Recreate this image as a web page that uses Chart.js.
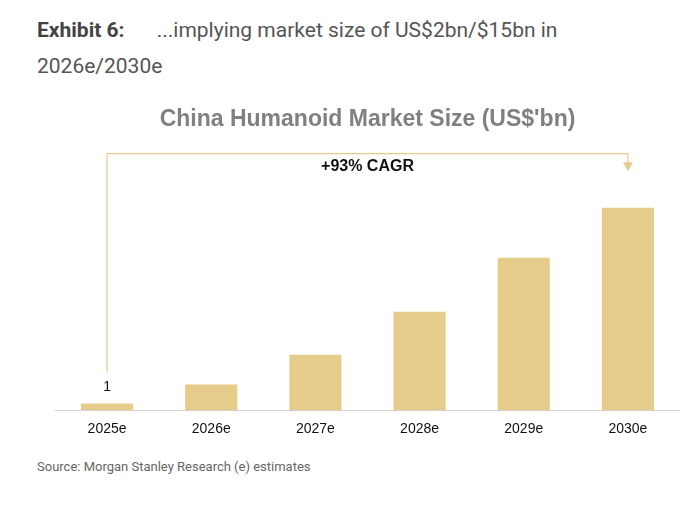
<!DOCTYPE html>
<html>
<head>
<meta charset="utf-8">
<script src="https://cdn.jsdelivr.net/npm/chart.js@4"></script>
<style>
  body { margin: 0; background: #fff; font-family: Roboto, "Noto Sans", sans-serif; }
  #head { position: absolute; left: 37px; top: 12px; width: 640px; font-size: 21px; line-height: 36px; color: #555; }
  #head b { color: #444; margin-right: 27px; }
  #wrap { position: absolute; left: 55px; top: 98px; width: 625px; height: 343px; }
  #src { position: absolute; left: 37px; top: 459px; font-size: 13px; color: #666; }
</style>
</head>
<body>
<div id="head"><b>Exhibit 6:</b> ...implying market size of US$2bn/$15bn in 2026e/2030e</div>
<div id="wrap"><canvas id="myChart"></canvas></div>
<div id="src">Source: Morgan Stanley Research (e) estimates</div>
<script>
const categories = ['2025e', '2026e', '2027e', '2028e', '2029e', '2030e'];
const marketSize = [0.5, 1.9, 4.1, 7.3, 11.3, 15.0];
const firstLabel = '1';
const cagrText = '+93% CAGR';

const gold = '#e6cc8a';

const bracket = {
    id: 'bracket',
    afterDatasetsDraw(chart) {
        const ctx = chart.ctx;
        const x = chart.scales.x;
        const y = chart.scales.y;
        const x0 = x.getPixelForValue(0);
        const x1 = x.getPixelForValue(categories.length - 1);
        const top = y.getPixelForValue(19.0);
        const lowEnd = y.getPixelForValue(2.8);
        const arrowTip = y.getPixelForValue(17.7);
        ctx.save();
        ctx.strokeStyle = gold;
        ctx.fillStyle = gold;
        ctx.lineWidth = 1.2;
        ctx.beginPath();
        ctx.moveTo(x0, lowEnd);
        ctx.lineTo(x0, top);
        ctx.lineTo(x1, top);
        ctx.lineTo(x1, arrowTip - 8);
        ctx.stroke();
        ctx.beginPath();
        ctx.moveTo(x1 - 5, arrowTip - 9);
        ctx.lineTo(x1 + 5, arrowTip - 9);
        ctx.lineTo(x1, arrowTip);
        ctx.closePath();
        ctx.fill();
        ctx.fillStyle = '#111';
        ctx.textAlign = 'center';
        ctx.textBaseline = 'middle';
        ctx.font = 'bold 16px Arial, "Liberation Sans", sans-serif';
        ctx.fillText(cagrText, (x0 + x1) / 2, top + 13);
        ctx.font = '14px Arial, "Liberation Sans", sans-serif';
        ctx.fillText(firstLabel, x0, y.getPixelForValue(marketSize[0]) - 16);
        ctx.restore();
    }
};

new Chart(document.getElementById('myChart').getContext('2d'), {
    type: 'bar',
    data: {
        labels: categories,
        datasets: [{
            data: marketSize,
            backgroundColor: gold,
            barPercentage: 0.5,
            categoryPercentage: 1.0
        }]
    },
    options: {
        responsive: true,
        maintainAspectRatio: false,
        animation: false,
        plugins: {
            legend: { display: false },
            tooltip: { enabled: false },
            title: {
                display: true,
                text: "China Humanoid Market Size (US$'bn)",
                color: '#808080',
                font: { family: 'Arial, "Liberation Sans", sans-serif', size: 23, weight: 'bold' },
                padding: { top: 8, bottom: 12 }
            }
        },
        scales: {
            x: {
                grid: { display: false },
                border: { color: '#d0d0d0' },
                ticks: { color: '#111', font: { family: 'Arial, "Liberation Sans", sans-serif', size: 14 } }
            },
            y: {
                display: false,
                min: 0,
                max: 19.6
            }
        }
    },
    plugins: [bracket]
});
</script>
</body>
</html>
